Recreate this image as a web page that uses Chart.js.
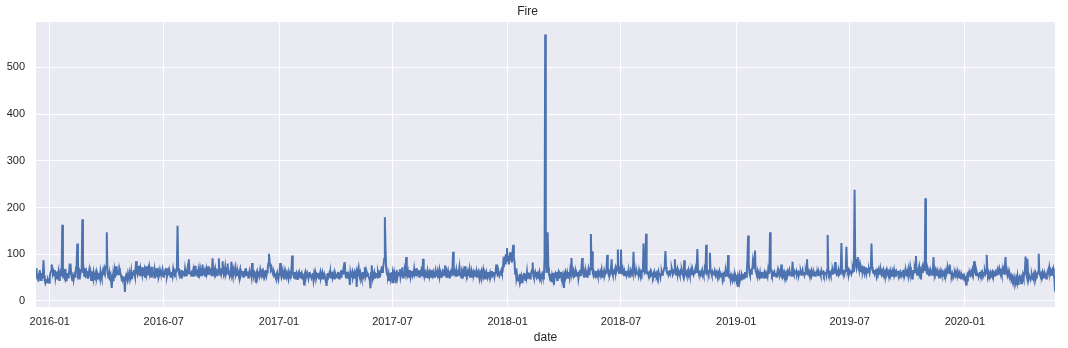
<!DOCTYPE html>
<html>
<head>
<meta charset="utf-8">
<script src="https://cdn.jsdelivr.net/npm/chart.js@4.4.0/dist/chart.umd.min.js"></script>
<style>
  body { margin: 0; background: #fff; }
  #wrap { width: 1068px; height: 348px; }
</style>
</head>
<body>
<div id="wrap"><canvas id="fire-chart" width="1068" height="348"></canvas></div>
<script>
// Daily "Fire" call counts, first day 2015-12-10
const startDate = "2015-12-10";
const fireCounts = [
  // 0
  70,62,48,55,41,58,66,52,45,60, 50,57,87,54,44,38,42,47,40,45, 41,39,52,60,64,78,70,58,62,55, 66,50,60,63,48,57,64,45,51,60, 55,70,163,58,62,50,47,68,44,55,
  // 50
  52,60,48,65,57,80,62,50,44,58, 46,55,63,50,72,85,123,56,60,48, 62,58,66,75,175,60,68,54,70,57, 62,50,64,47,58,66,52,60,45,63, 55,49,61,52,44,58,63,50,56,48,
  // 100
  60,52,47,63,55,49,58,66,62,70, 64,72,75,147,62,55,48,58,44,52, 40,28,50,44,58,52,66,60,74,58, 60,62,55,70,64,58,52,48,50,44, 52,40,19,50,55,50,45,58,52,48,
  // 150
  56,50,62,47,55,60,66,58,52,70, 85,62,57,66,75,60,53,70,64,58, 72,55,63,68,50,60,74,57,62,68, 55,70,60,65,52,58,73,56,62,50, 66,60,54,70,58,63,52,57,66,60,
  // 200
  55,62,68,58,50,60,64,56,70,52, 58,63,55,66,60,50,57,62,54,68, 60,56,63,58,65,78,161,70,60,55, 62,58,50,66,57,60,64,52,68,58, 55,62,70,60,89,65,58,62,54,60,
  // 250
  58,66,52,60,75,62,55,68,60,52, 64,58,70,62,55,60,78,57,63,66, 54,60,68,58,62,74,56,64,60,70, 55,66,91,60,57,64,70,58,62,55, 68,60,91,62,56,70,58,64,85,60,
  // 300
  58,62,72,56,60,66,80,58,64,55, 62,57,84,60,54,66,58,62,70,56, 60,55,64,58,52,62,68,55,60,57, 64,52,58,62,55,70,60,56,63,50, 58,64,55,60,52,81,58,62,55,60,
  // 350
  56,39,60,64,52,58,62,55,66,58, 54,62,57,64,60,52,58,66,55,62, 70,80,101,84,75,68,72,64,60,55, 62,58,52,48,55,60,50,45,57,62, 81,58,50,55,62,57,48,60,54,58,
  // 400
  52,60,55,48,62,57,50,58,70,97, 60,55,50,62,48,56,60,52,45,58, 62,54,50,57,60,48,55,52,35,58, 62,50,56,60,54,48,58,62,52,57, 50,55,60,46,58,52,62,56,50,54,
  // 450
  60,52,48,57,62,50,55,60,46,54, 58,52,48,44,32,55,60,52,57,50, 62,48,55,58,50,54,60,46,57,52, 58,50,62,55,48,57,60,52,66,58, 62,70,60,83,57,50,62,55,48,58,
  // 500
  55,34,60,52,57,62,50,55,60,48, 57,62,30,58,66,72,55,50,60,54, 48,58,62,52,56,72,50,54,62,57, 60,52,48,44,27,60,76,55,52,58, 62,48,57,55,60,50,62,56,52,60,
  // 550
  58,66,74,62,70,78,90,179,116,72, 60,55,52,58,45,60,48,56,62,40, 58,52,62,55,38,60,66,50,57,62, 55,68,52,60,57,72,50,62,55,64, 58,94,60,55,62,50,57,66,52,60,
  // 600
  64,55,60,52,68,58,62,55,70,57, 60,66,52,58,62,55,64,60,90,58, 62,55,60,52,57,64,50,58,62,55, 60,52,66,57,62,55,58,50,64,57, 55,62,50,58,66,54,60,52,57,62,
  // 650
  55,60,66,76,58,52,62,57,64,55, 50,58,62,55,60,72,105,60,55,62, 58,66,52,60,56,62,72,55,60,50, 62,57,64,55,58,74,52,60,56,62, 55,60,68,52,58,64,50,57,62,55,
  // 700
  60,54,58,64,50,57,62,55,48,60, 56,62,52,58,66,55,60,48,57,62, 55,50,58,62,54,60,52,57,64,55, 58,62,52,60,66,78,62,55,57,60, 54,58,62,66,60,62,80,72,95,80,
  // 750
  100,90,113,84,96,78,92,104,86,98, 82,108,120,92,85,58,70,48,56,44, 44,50,42,58,46,52,40,55,48,60, 52,45,58,50,62,47,55,60,52,48, 57,62,66,82,55,50,58,62,54,50,
  // 800
  55,48,57,52,60,50,46,54,58,52, 48,56,90,570,120,60,70,147,72,58, 52,45,58,40,54,48,60,35,52,57, 50,62,45,55,60,48,57,52,62,50, 55,46,52,28,58,62,50,54,60,48,
  // 850
  57,62,52,66,60,92,58,55,62,50, 57,64,52,60,55,62,48,58,66,55, 60,72,92,62,57,52,60,55,64,58, 52,60,68,57,62,70,143,65,106,60, 55,62,58,52,64,56,60,54,62,58,
  // 900
  55,62,58,66,52,60,57,64,55,60, 62,70,99,64,58,62,55,60,66,89, 60,55,62,58,64,70,60,66,74,110, 65,60,70,68,110,62,58,66,60,55, 62,57,64,55,60,58,66,52,60,57,
  // 950
  62,58,66,60,105,70,62,56,60,64, 58,62,55,66,60,54,62,58,64,66, 123,70,60,62,144,66,58,62,55,60, 57,62,54,60,56,52,58,62,50,57, 60,54,58,52,62,56,60,50,57,62,
  // 1000
  56,60,64,70,80,107,72,62,58,64, 56,60,66,58,62,70,64,57,60,66, 89,60,56,62,68,58,64,60,55,62, 58,66,60,55,62,87,58,64,60,55, 62,58,66,60,54,62,57,64,58,62,
  // 1050
  56,60,64,70,62,75,111,66,60,58, 64,57,62,58,66,60,55,62,68,64, 120,70,60,62,58,64,103,66,60,55, 62,58,64,56,60,55,62,58,52,60, 56,62,50,58,54,60,48,56,52,58,
  // 1100
  56,66,55,60,52,98,56,50,58,46, 55,50,44,52,48,56,42,54,50,46, 52,32,48,55,44,50,46,56,52,48, 58,50,62,55,52,66,90,140,80,60, 55,62,58,66,72,90,84,70,108,64,
  // 1150
  60,55,62,50,57,52,60,48,56,62, 54,50,58,62,55,48,60,57,52,66, 58,70,147,72,62,56,60,54,58,62, 55,60,52,58,64,56,60,54,62,58, 78,57,52,60,55,62,58,54,60,56,
  // 1200
  62,55,60,66,58,62,54,60,84,58, 55,62,58,60,64,56,60,62,55,60, 58,62,56,60,66,58,62,55,60,64, 58,89,62,56,60,55,62,58,64,56, 60,55,62,58,54,60,62,57,60,55,
  // 1250
  62,58,60,55,64,58,60,62,56,60, 58,62,55,66,141,64,58,62,60,55, 62,58,66,60,64,70,83,62,58,64, 60,55,66,62,58,70,124,68,62,60, 66,58,64,72,116,70,62,66,58,64,
  // 1300
  60,66,58,62,70,64,80,238,90,76, 70,82,94,74,68,76,64,72,66,70, 62,68,74,60,66,72,58,64,70,62, 66,60,70,76,123,72,64,60,66,58, 62,68,56,64,60,66,58,62,70,60,
  // 1350
  56,62,58,66,60,54,62,58,64,56, 60,55,62,58,64,56,60,54,62,58, 66,56,60,52,62,58,64,55,60,57, 62,58,54,60,66,57,62,55,60,64, 58,62,56,68,60,55,72,64,58,48,
  // 1400
  66,58,62,70,64,96,60,56,62,68, 74,58,62,46,66,72,60,70,78,64, 220,80,62,58,66,60,55,62,58,64, 60,56,62,94,62,58,64,56,60,55, 62,58,50,60,56,64,58,54,60,57,
  // 1450
  62,56,60,66,58,62,70,64,60,78, 62,58,54,60,56,52,58,60,55,62, 57,52,60,55,50,58,54,48,56,52, 58,50,54,48,46,35,50,56,52,58, 54,60,56,62,58,66,60,72,85,62,
  // 1500
  58,55,62,56,60,52,58,62,55,60, 56,62,58,54,60,64,58,62,99,60, 56,62,58,55,60,52,58,62,56,60, 54,58,62,56,60,66,58,62,70,64, 58,62,56,66,60,64,58,72,94,62,
  // 1550
  60,55,64,58,52,56,50,54,48,52, 46,40,50,44,38,48,42,52,36,46, 50,42,54,38,48,44,56,50,60,66, 95,58,52,90,56,48,54,50,46,52, 56,50,54,48,58,52,60,56,54,58,
  // 1600
  62,101,60,56,52,58,54,60,50,56, 52,58,54,48,56,62,66,60,72,64, 58,62,54,66,70,56,48,20
];

const xTickLabels = ["2016-01", "2016-07", "2017-01", "2017-07", "2018-01", "2018-07", "2019-01", "2019-07", "2020-01"];
const yTickValues = [0, 100, 200, 300, 400, 500];

// day offset of a "YYYY-MM" label from the first day
function dayOffset(label) {
  const [y, m] = label.split("-").map(Number);
  const [sy, sm, sd] = startDate.split("-").map(Number);
  return (Date.UTC(y, m - 1, 1) - Date.UTC(sy, sm - 1, sd)) / 86400000;
}
const xTickDays = xTickLabels.map(dayOffset);

const points = fireCounts.map((v, i) => ({ x: i, y: v }));

const plotBg = {
  id: "plotBg",
  beforeDraw(chart) {
    const { ctx, chartArea: a } = chart;
    ctx.save();
    ctx.fillStyle = "#EAEAF2";
    ctx.fillRect(a.left, a.top, a.right - a.left, a.bottom - a.top);
    ctx.restore();
  }
};

const font = { family: "'Liberation Sans', Arial, sans-serif", size: 11 };

new Chart(document.getElementById("fire-chart"), {
  type: "line",
  data: {
    datasets: [{
      data: points,
      borderColor: "#4C72B0",
      borderWidth: 2,
      pointRadius: 0,
      tension: 0,
      fill: false
    }]
  },
  options: {
    responsive: false,
    animation: false,
    layout: { padding: { left: 0, right: 13, top: 0, bottom: 0 } },
    plugins: {
      legend: { display: false },
      tooltip: { enabled: false },
      title: {
        display: true,
        text: "Fire",
        color: "#262626",
        font: { family: font.family, size: 12, weight: "normal" },
        padding: { top: 4, bottom: 3.6 }
      }
    },
    scales: {
      x: {
        type: "linear",
        min: 0,
        max: fireCounts.length - 1,
        afterBuildTicks: s => { s.ticks = xTickDays.map(v => ({ value: v })); },
        afterFit: s => { s.height = 41; },
        ticks: {
          color: "#262626",
          font: font,
          padding: 8,
          maxRotation: 0,
          autoSkip: false,
          callback: v => xTickLabels[xTickDays.indexOf(v)]
        },
        grid: { color: "#ffffff", lineWidth: 1, drawTicks: false },
        border: { display: false },
        title: {
          display: true,
          text: "date",
          color: "#262626",
          font: { family: font.family, size: 12 },
          padding: { top: 0, bottom: 3 }
        }
      },
      y: {
        min: -13,
        max: 597,
        afterBuildTicks: s => { s.ticks = yTickValues.map(v => ({ value: v })); },
        afterFit: s => { s.width = 36; },
        ticks: { color: "#262626", font: font, padding: 11 },
        grid: { color: "#ffffff", lineWidth: 1, drawTicks: false },
        border: { display: false }
      }
    }
  },
  plugins: [plotBg]
});
</script>
</body>
</html>
